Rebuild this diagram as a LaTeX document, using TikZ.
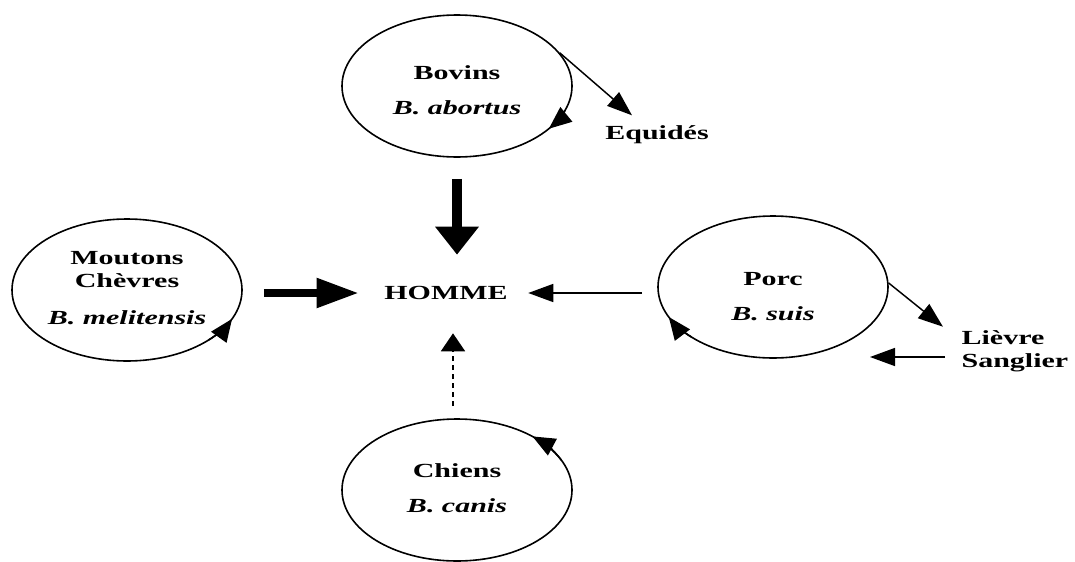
\documentclass[tikz,border=0pt]{standalone}
\usepackage{fontspec}
\setmainfont{Liberation Serif}[FakeStretch=1.5]
\usetikzlibrary{shapes.geometric,arrows.meta,calc}

\newlength{\pu}
\setlength{\pu}{0.75pt}

\begin{document}
\begin{tikzpicture}[x=\pu,y=-\pu,
  host/.style={draw,ellipse,line width=1.2pt,minimum width=172.5pt,minimum height=106.5pt,inner sep=0pt},
  lab/.style={font=\fontsize{15}{17.25}\selectfont\bfseries,align=center,inner sep=1pt},
  bigdown/.style={line width=7.5pt,-{Triangle[length=21pt,width=31.5pt]}},
  bigright/.style={line width=6pt,-{Triangle[length=31.5pt,width=21pt]}},
  thin/.style={line width=1.1pt,-{Triangle[length=18.75pt,width=13.5pt]}},
  hint/.style={line width=1.5pt,dash pattern=on 3.75pt off 3pt,-{Triangle[length=13.5pt,width=18pt]}},
  ring/.style={line width=1.2pt,-{Triangle[length=17pt,width=14pt]}}]
\useasboundingbox (0,0) rectangle (1075,561);

% reservoirs
\node[host] (bov) at (457,86) {};
\node[host] (mou) at (127,290) {};
\node[host] (porc) at (773,287) {};
\node[host] (chi) at (457,490) {};

\node[lab] (bovt) at (457,90) {Bovins\\[9pt]\textit{B. abortus}};
\node[lab] (mout) at (127,288) {Moutons\\Chèvres\\[10pt]\textit{B. melitensis}};
\node[lab] (porct) at (773,297) {Porc\\[9pt]\textit{B. suis}};
\node[lab] (chit) at (457,488) {Chiens\\[9pt]\textit{B. canis}};

\node[lab] (hom) at (446,293) {HOMME};
\node[lab] (equ) at (657,135) {Equidés};
\node[lab,align=left,anchor=west] (lie) at (960,351) {Lièvre\\Sanglier};

% cycles inside each species
\draw[ring] ($(bov.center)+({115*cos(20)},{71*sin(20)})$) arc[start angle=20,end angle=37,x radius=115,y radius=71];
\draw[ring] ($(mou.center)+({115*cos(45)},{71*sin(45)})$) arc[start angle=45,end angle=24,x radius=115,y radius=71];
\draw[ring] ($(porc.center)+({115*cos(135)},{71*sin(135)})$) arc[start angle=135,end angle=155,x radius=115,y radius=71];
\draw[ring] ($(chi.center)+({115*cos(-25)},{71*sin(-25)})$) arc[start angle=-25,end angle=-49,x radius=115,y radius=71];

% transmission to man
\draw[bigdown,shorten <=15.75pt,shorten >=22.5pt] (bov.south) -- (bov.south |- hom.north);
\draw[bigright,shorten <=15.75pt,shorten >=18pt] (mou.east |- hom.west) -- (hom.west);
\draw[thin,shorten <=11.25pt,shorten >=14.25pt] (porc.west |- hom.east) -- (hom.east);
\draw[hint,shorten <=9pt,shorten >=24pt] ([xshift=-3pt]chi.north) -- ([xshift=-3pt]chi.north |- hom.south);

% other hosts
\coordinate (equtip) at ($(equ.north)+(-25,-9)$);
\coordinate (lietip) at ($(lie.north west)+(-17,-2)$);
\coordinate (liefrom) at ($(lie.west)+(-15,6)$);
\coordinate (lieend) at ($(lie.west)+(-90,6)$);
\draw[thin] (bov.18) -- (equtip);
\draw[thin] (porc.2) -- (lietip);
\draw[thin] (liefrom) -- (lieend);
\end{tikzpicture}
\end{document}
